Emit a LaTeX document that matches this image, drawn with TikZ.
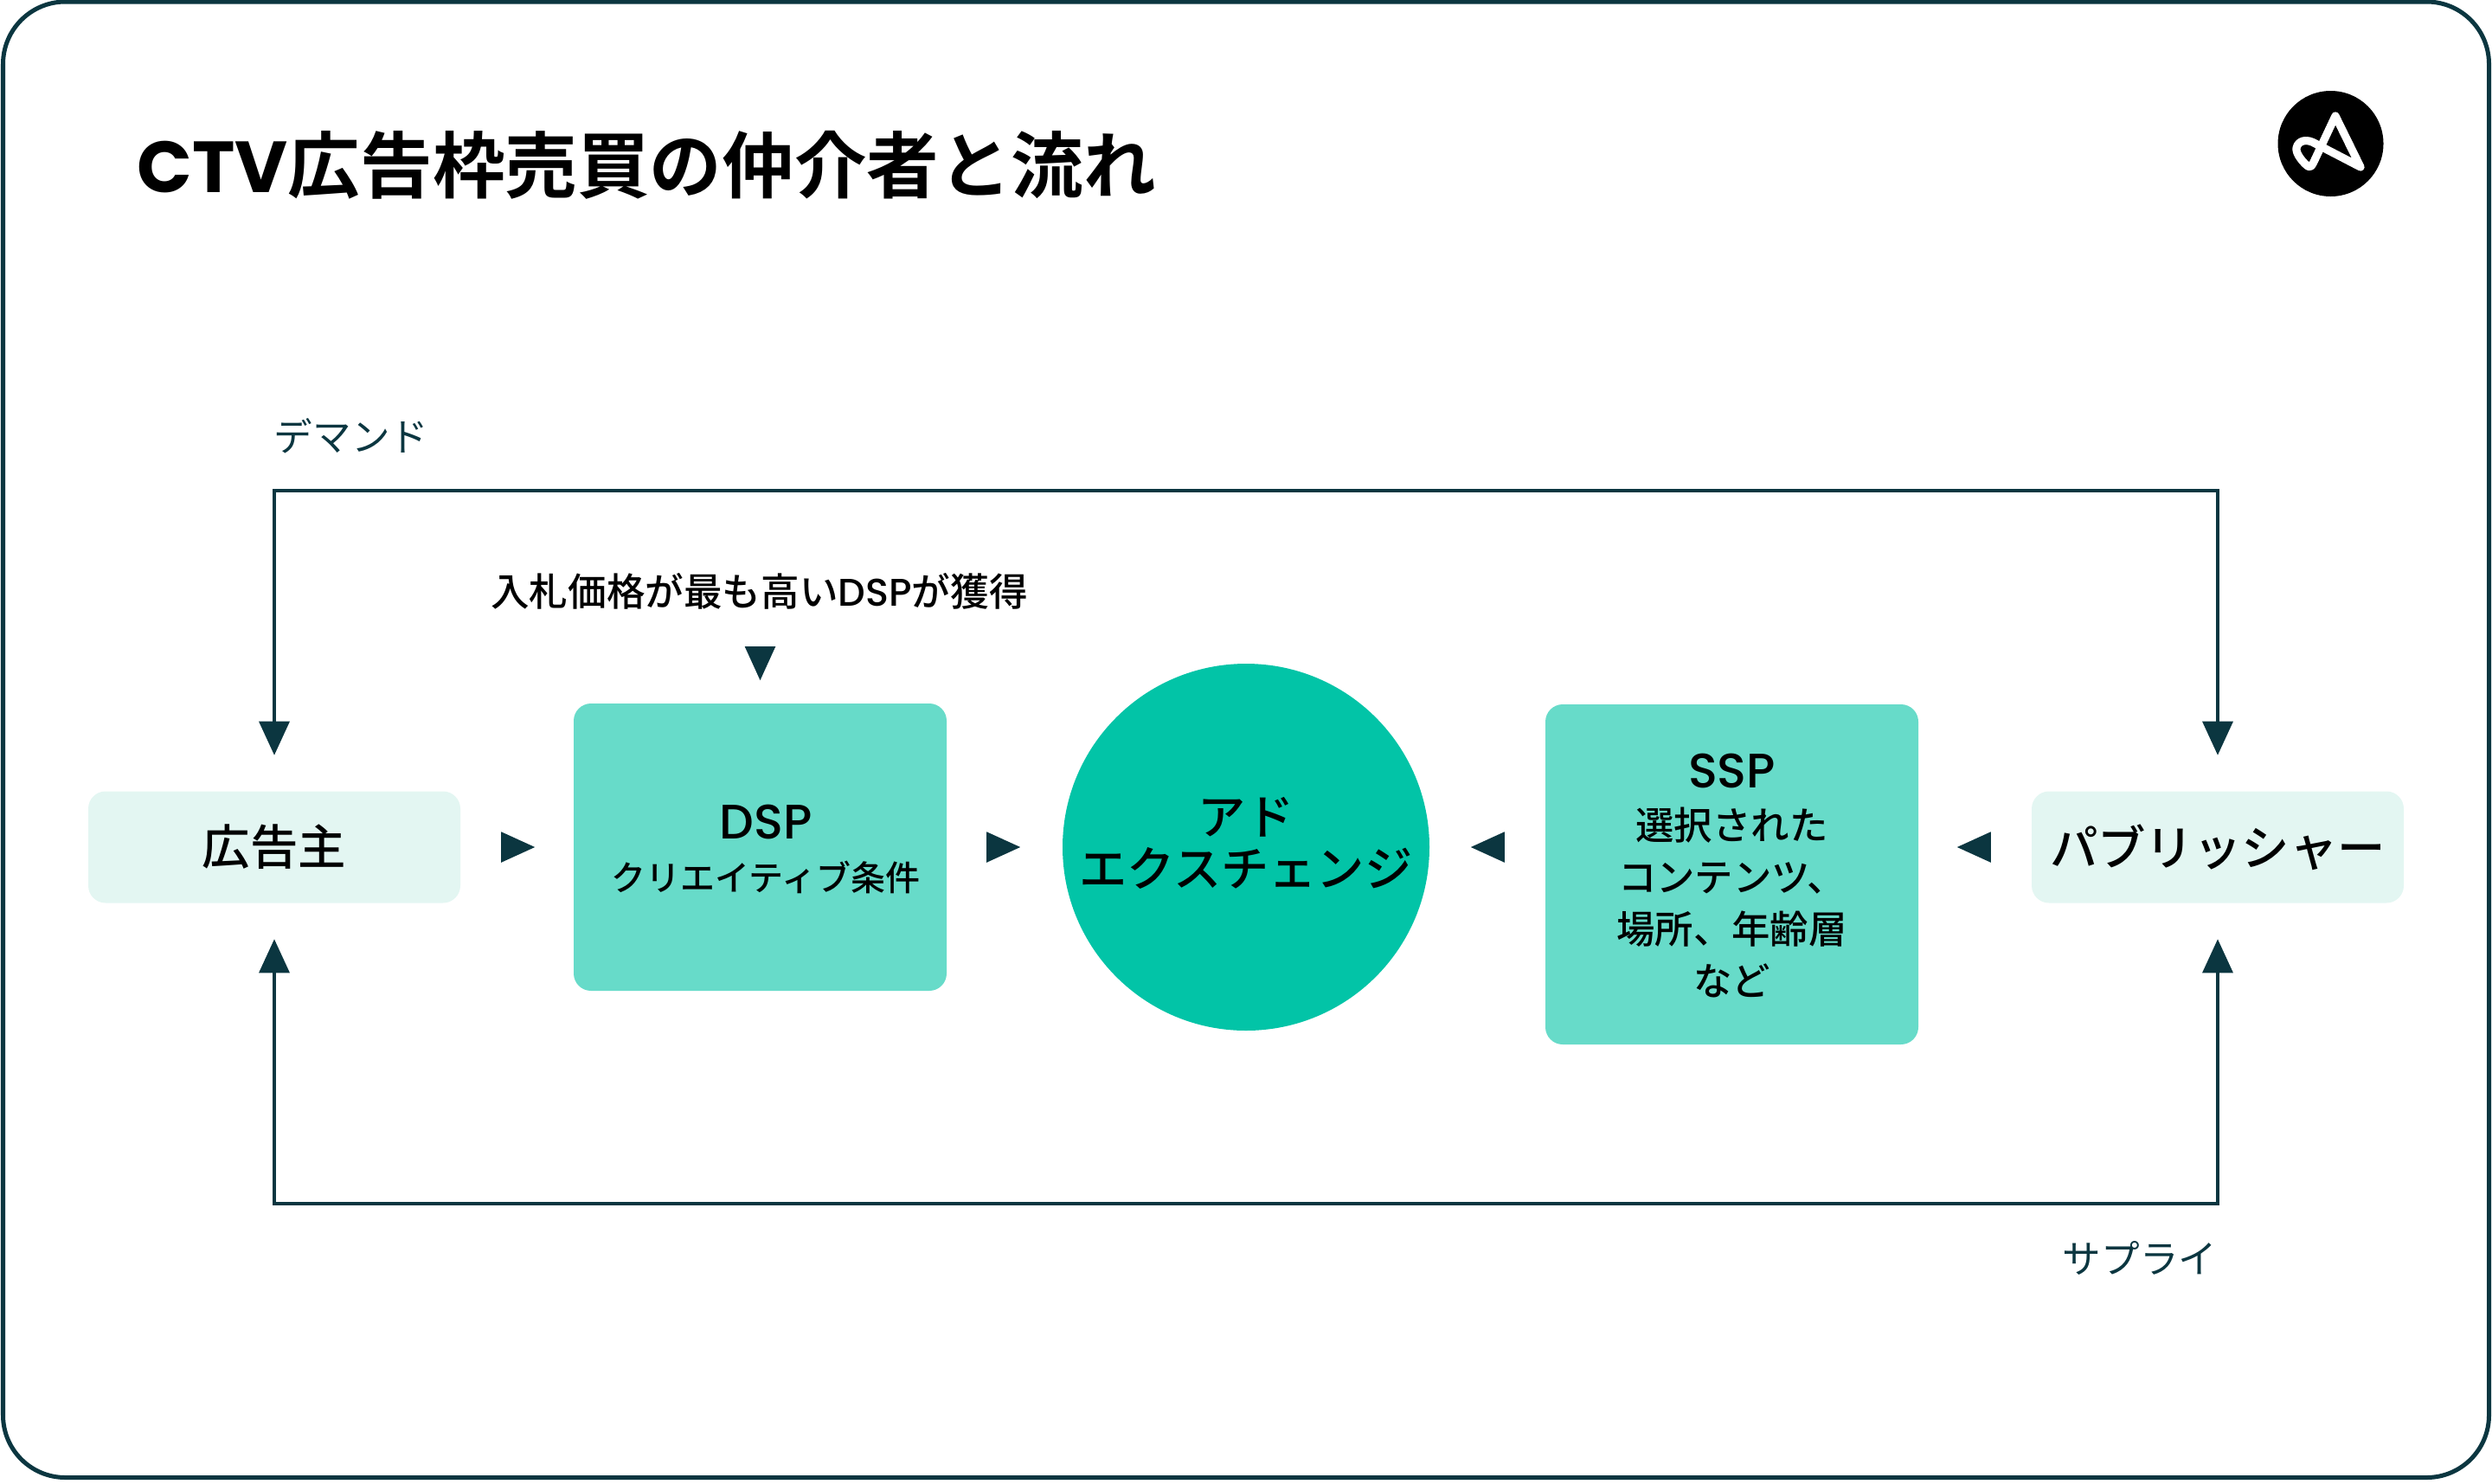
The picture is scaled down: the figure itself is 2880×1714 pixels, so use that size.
\documentclass[tikz,border=0pt]{standalone}
\usepackage{fontspec}
\setmainfont{Noto Sans CJK JP Medium}[BoldFont={Noto Sans CJK JP Bold}]
\newfontfamily\latinfont{Poppins Medium}[BoldFont={Poppins Bold}]
\newfontfamily\notefont{Noto Sans CJK JP}
\usetikzlibrary{arrows.meta}
\definecolor{inkTeal}{HTML}{0B3640}
\definecolor{paleTeal}{HTML}{E3F6F2}
\definecolor{midTeal}{HTML}{67DBC9}
\definecolor{deepTeal}{HTML}{02C4A7}
\begin{document}
\begin{tikzpicture}
[x=0.25pt,y=-0.25pt,
  endDecorate/.style={shape=rectangle,rounded corners=5pt,fill=paleTeal,
    minimum width=107.5pt,minimum height=32.25pt,inner sep=0pt,font=\fontsize{13.85}{16}\selectfont},%
  boxDecorate/.style={shape=rectangle,rounded corners=5pt,fill=midTeal,
    minimum width=107.75pt,inner sep=0pt},%
  textDecorate/.style={inner sep=0pt,align=center},%
  noteDecorate/.style={text=inkTeal,inner sep=0pt,font=\notefont\fontsize{11.15}{13}\selectfont},%
  loopDecorate/.style={{Triangle[length=9.75pt,width=8.75pt]}-{Triangle[length=9.75pt,width=8.75pt]},
    draw=inkTeal,line width=0.85pt,shorten <=10.25pt,shorten >=10.25pt},%
  stepDecorate/.style={-{Triangle[length=9.75pt,width=8.75pt]},draw=inkTeal,fill=inkTeal,line width=0.5pt}]
\useasboundingbox (0,0) rectangle (2880,1714);
%% frame and title
\draw[inkTeal,line width=1.25pt,rounded corners=18pt] (3.5,2) rectangle (2876.5,1707.5);
\node (title) at (158,191) [anchor=west,inner sep=0pt,font=\fontsize{20.9}{25}\selectfont\bfseries]
  {{\latinfont CTV}広告枠売買の仲介者と流れ};
%% logo
\fill[black] (2693.5,166) circle (61);
\draw[white,line width=2.3pt,line join=round,line cap=round]
  (2699,134) -- (2728,193) -- (2676,166) .. controls (2666,160) and (2656,162) .. (2654,171)
  .. controls (2653,178) and (2662,188) .. (2667,192) .. controls (2671,195) and (2673,189) .. (2675,185) -- cycle;
%% nodes or vertices
\node (adv) at (317,979) [endDecorate] {広告主};
\node (pub) at (2563,979) [endDecorate] {パブリッシャー};
\node (dsp) at (878.5,979) [boxDecorate,minimum height=83pt] {};
\node (dsplabel) at (885,981) [textDecorate,font=\fontsize{10}{16.75}\selectfont]
  {{\fontsize{14}{16.75}\selectfont\latinfont DSP}\\[-1.75pt]クリエイティブ条件};
\node (ssp) at (2001.5,1010.5) [boxDecorate,minimum height=98.25pt] {};
\node (ssplabel) at (2001.5,1012) [textDecorate,font=\fontsize{11.1}{15}\selectfont]
  {{\fontsize{14}{15}\selectfont\latinfont SSP}\\選択された\\コンテンツ、\\場所、年齢層\\など};
\node (exch) at (1440,979) [shape=circle,fill=deepTeal,minimum size=106pt,inner sep=0pt] {};
\node (exchlabel) at (1440,974) [textDecorate,font=\fontsize{13.8}{15}\selectfont] {アド\\エクスチェンジ};
\node (bid) at (877.5,683) [inner sep=0pt,minimum height=11pt,font=\fontsize{11.15}{13}\selectfont]
  {入札価格が最も高い{\latinfont DSP}が獲得};
\node (demand) at (406,504) [noteDecorate] {デマンド};
\node (supply) at (2473,1454) [noteDecorate] {サプライ};
\coordinate (demandtop) at (1440,567);
\coordinate (supplybottom) at (1440,1391);
\coordinate (sspright) at (ssp.east |- pub);
\coordinate (sspleft) at (ssp.west |- exch);
\coordinate (bidfoot) at (dsp.north |- bid.south);
%% edges or lines
\draw[loopDecorate] (adv) |- (demandtop) -| (pub);
\draw[loopDecorate] (adv) |- (supplybottom) -| (pub);
\foreach \startnode/\endnode/\startgap/\endgap in {
  adv.east/dsp.west/12pt/11pt, dsp.east/exch.west/11.5pt/12pt,
  pub.west/sspright/11.7pt/11pt, sspleft/exch.east/12pt/11.75pt}
{
  \draw[stepDecorate,shorten <=\startgap,shorten >=\endgap] (\startnode) -- (\endnode);
}
\draw[stepDecorate,shorten <=10.75pt,shorten >=6.5pt] (bidfoot) -- (dsp.north);
\end{tikzpicture}
\end{document}
